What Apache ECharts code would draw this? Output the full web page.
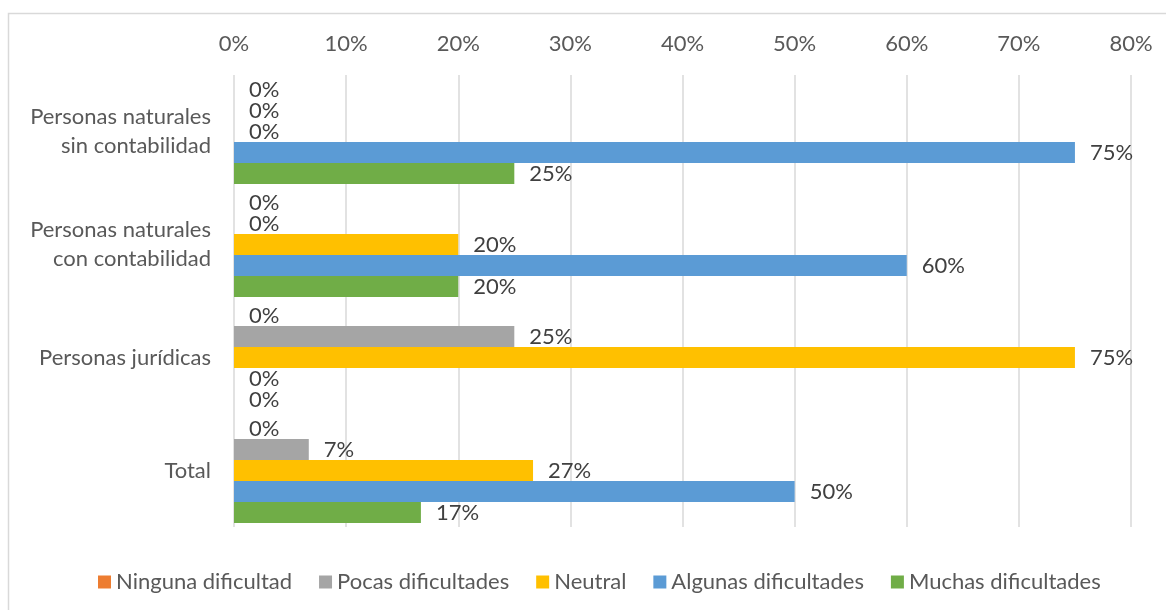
<!DOCTYPE html>
<html>
<head>
<meta charset="utf-8">
<script src="https://cdn.jsdelivr.net/npm/echarts@6/dist/echarts.min.js"></script>
<style>
html,body{margin:0;padding:0;background:#fff;}
#chart{width:1166px;height:610px;}
</style>
</head>
<body>
<div id="chart"></div>
<script>
const categories = ["Personas naturales\nsin contabilidad", "Personas naturales\ncon contabilidad", "Personas jurídicas", "Total"];
const seriesNames = ["Ninguna dificultad", "Pocas dificultades", "Neutral", "Algunas dificultades", "Muchas dificultades"];
const ningunaDificultad = [0, 0, 0, 0];
const pocasDificultades = [0, 0, 25, 6.67];
const neutral = [0, 20, 75, 26.67];
const algunasDificultades = [75, 60, 0, 50];
const muchasDificultades = [25, 20, 0, 16.67];
const xTicks = [0, 10, 20, 30, 40, 50, 60, 70, 80];
const colors = ["#ED7D31", "#A5A5A5", "#FFC000", "#5B9BD5", "#70AD47"];

const FONT = "Lato";
const FS = 22;
const allData = [ningunaDificultad, pocasDificultades, neutral, algunasDificultades, muchasDificultades];

const chart = echarts.init(document.getElementById('chart'));
chart.setOption({
  animation: false,
  textStyle: {fontFamily: FONT},
  graphic: [{
    type: 'rect', shape: {x: 8.5, y: 13.5, width: 1170, height: 620},
    style: {fill: 'none', stroke: '#d9d9d9', lineWidth: 1.5}, silent: true
  }],
  grid: {left: 234, right: 35, top: 75, bottom: 83, containLabel: false},
  xAxis: {
    type: 'value', position: 'top', min: xTicks[0], max: xTicks[xTicks.length - 1], interval: 10,
    axisLine: {show: false}, axisTick: {show: false},
    splitLine: {show: true, lineStyle: {color: '#d9d9d9', width: 1.5}},
    axisLabel: {formatter: '{value}%', fontSize: FS, color: '#595959', margin: 20, fontFamily: FONT}
  },
  yAxis: {
    type: 'category', data: categories, inverse: true,
    axisLine: {show: false}, axisTick: {show: false},
    axisLabel: {fontSize: FS, color: '#595959', margin: 23, lineHeight: 29, align: 'right', fontFamily: FONT}
  },
  legend: {
    data: seriesNames, left: 93, top: 566, itemWidth: 13, itemHeight: 13, itemGap: 27, icon: 'rect',
    textStyle: {fontSize: FS, color: '#595959', fontFamily: FONT, padding: [0, 0, 0, 0]}
  },
  series: seriesNames.map((name, i) => ({
    name: name, type: 'bar', data: allData[i], barGap: '0%', barCategoryGap: '7%',
    itemStyle: {color: colors[i]},
    label: {
      show: true, position: 'right', distance: 15, fontSize: FS, color: '#404040', fontFamily: FONT,
      formatter: p => Math.round(p.value) + '%'
    }
  }))
});
</script>
</body>
</html>
